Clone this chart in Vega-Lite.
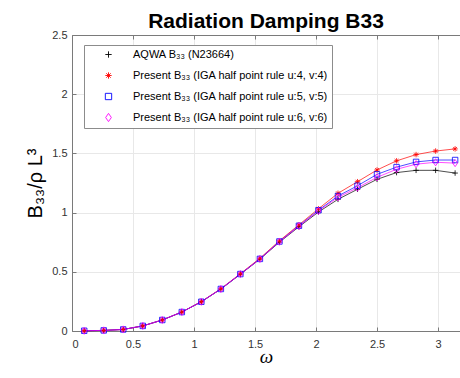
{
  "$schema": "https://vega.github.io/schema/vega-lite/v6.json",
  "autosize": {"type": "none"},
  "padding": {"left": 72, "top": 35, "right": 0, "bottom": 47},
  "width": 388,
  "height": 296,
  "title": {"text": "Radiation Damping B33", "font": "Liberation Sans", "fontSize": 21, "fontWeight": "bold", "color": "#000000", "anchor": "middle", "offset": 0, "dy": 3},
  "config": {
    "view": {"stroke": null},
    "axis": {
      "domainColor": "#7a7a7a", "domainWidth": 1, "tickColor": "#7a7a7a", "tickSize": -4,
      "labelFont": "Liberation Sans", "labelFontSize": 11, "labelColor": "#333333",
      "gridColor": "#e8e8e8", "gridWidth": 1,
      "titleFont": "Liberation Sans", "titleColor": "#000000", "titleFontWeight": "normal"
    }
  },
  "data": {"values": [
    {"w": 0.1, "s": "AQWA", "b": 0.002}, {"w": 0.1, "s": "u4", "b": 0.002}, {"w": 0.1, "s": "u5", "b": 0.002}, {"w": 0.1, "s": "u6", "b": 0.002},
    {"w": 0.26, "s": "AQWA", "b": 0.005}, {"w": 0.26, "s": "u4", "b": 0.005}, {"w": 0.26, "s": "u5", "b": 0.005}, {"w": 0.26, "s": "u6", "b": 0.005},
    {"w": 0.42, "s": "AQWA", "b": 0.013}, {"w": 0.42, "s": "u4", "b": 0.013}, {"w": 0.42, "s": "u5", "b": 0.013}, {"w": 0.42, "s": "u6", "b": 0.013},
    {"w": 0.58, "s": "AQWA", "b": 0.043}, {"w": 0.58, "s": "u4", "b": 0.043}, {"w": 0.58, "s": "u5", "b": 0.043}, {"w": 0.58, "s": "u6", "b": 0.043},
    {"w": 0.74, "s": "AQWA", "b": 0.093}, {"w": 0.74, "s": "u4", "b": 0.093}, {"w": 0.74, "s": "u5", "b": 0.093}, {"w": 0.74, "s": "u6", "b": 0.093},
    {"w": 0.9, "s": "AQWA", "b": 0.16}, {"w": 0.9, "s": "u4", "b": 0.16}, {"w": 0.9, "s": "u5", "b": 0.16}, {"w": 0.9, "s": "u6", "b": 0.16},
    {"w": 1.06, "s": "AQWA", "b": 0.247}, {"w": 1.06, "s": "u4", "b": 0.248}, {"w": 1.06, "s": "u5", "b": 0.247}, {"w": 1.06, "s": "u6", "b": 0.247},
    {"w": 1.22, "s": "AQWA", "b": 0.354}, {"w": 1.22, "s": "u4", "b": 0.357}, {"w": 1.22, "s": "u5", "b": 0.355}, {"w": 1.22, "s": "u6", "b": 0.355},
    {"w": 1.38, "s": "AQWA", "b": 0.479}, {"w": 1.38, "s": "u4", "b": 0.484}, {"w": 1.38, "s": "u5", "b": 0.481}, {"w": 1.38, "s": "u6", "b": 0.481},
    {"w": 1.54, "s": "AQWA", "b": 0.607}, {"w": 1.54, "s": "u4", "b": 0.614}, {"w": 1.54, "s": "u5", "b": 0.609}, {"w": 1.54, "s": "u6", "b": 0.608},
    {"w": 1.7, "s": "AQWA", "b": 0.75}, {"w": 1.7, "s": "u4", "b": 0.762}, {"w": 1.7, "s": "u5", "b": 0.756}, {"w": 1.7, "s": "u6", "b": 0.754},
    {"w": 1.86, "s": "AQWA", "b": 0.88}, {"w": 1.86, "s": "u4", "b": 0.897}, {"w": 1.86, "s": "u5", "b": 0.889}, {"w": 1.86, "s": "u6", "b": 0.886},
    {"w": 2.02, "s": "AQWA", "b": 1.005}, {"w": 2.02, "s": "u4", "b": 1.032}, {"w": 2.02, "s": "u5", "b": 1.02}, {"w": 2.02, "s": "u6", "b": 1.014},
    {"w": 2.18, "s": "AQWA", "b": 1.112}, {"w": 2.18, "s": "u4", "b": 1.163}, {"w": 2.18, "s": "u5", "b": 1.14}, {"w": 2.18, "s": "u6", "b": 1.129},
    {"w": 2.34, "s": "AQWA", "b": 1.197}, {"w": 2.34, "s": "u4", "b": 1.261}, {"w": 2.34, "s": "u5", "b": 1.227}, {"w": 2.34, "s": "u6", "b": 1.21},
    {"w": 2.5, "s": "AQWA", "b": 1.281}, {"w": 2.5, "s": "u4", "b": 1.36}, {"w": 2.5, "s": "u5", "b": 1.323}, {"w": 2.5, "s": "u6", "b": 1.298},
    {"w": 2.66, "s": "AQWA", "b": 1.338}, {"w": 2.66, "s": "u4", "b": 1.437}, {"w": 2.66, "s": "u5", "b": 1.384}, {"w": 2.66, "s": "u6", "b": 1.366},
    {"w": 2.82, "s": "AQWA", "b": 1.357}, {"w": 2.82, "s": "u4", "b": 1.49}, {"w": 2.82, "s": "u5", "b": 1.428}, {"w": 2.82, "s": "u6", "b": 1.409},
    {"w": 2.98, "s": "AQWA", "b": 1.357}, {"w": 2.98, "s": "u4", "b": 1.52}, {"w": 2.98, "s": "u5", "b": 1.444}, {"w": 2.98, "s": "u6", "b": 1.425},
    {"w": 3.14, "s": "AQWA", "b": 1.334}, {"w": 3.14, "s": "u4", "b": 1.538}, {"w": 3.14, "s": "u5", "b": 1.444}, {"w": 3.14, "s": "u6", "b": 1.418}
  ]},
  "resolve": {"axis": {"x": "independent"}},
  "layer": [
    {
      "mark": {"type": "line", "strokeWidth": 0.7},
      "encoding": {
        "x": {"field": "w", "type": "quantitative", "scale": {"domain": [0, 3.18], "nice": false, "zero": false},
              "axis": {"orient": "bottom", "values": [0, 0.5, 1, 1.5, 2, 2.5, 3], "format": "~g", "labelPadding": 11,
                       "title": "ω", "titleFont": "Liberation Serif", "titleFontStyle": "italic", "titleFontSize": 19, "titlePadding": -2}},
        "y": {"field": "b", "type": "quantitative", "scale": {"domain": [0, 2.5], "nice": false},
              "axis": {"orient": "left", "values": [0, 0.5, 1, 1.5, 2, 2.5], "format": "~g", "labelPadding": 9,
                       "title": "B₃₃/ρ L³", "titleFontSize": 20, "titlePadding": 6}},
        "color": {"field": "s", "type": "nominal", "scale": {"domain": ["AQWA", "u4", "u5", "u6"], "range": ["#000000", "#ff0000", "#0000ff", "#ff00ff"]}}
      }
    },
    {
      "mark": {"type": "point", "filled": false, "size": 30, "strokeWidth": 0.8, "opacity": 1},
      "encoding": {
        "x": {"field": "w", "type": "quantitative",
              "axis": {"orient": "top", "values": [0, 0.5, 1, 1.5, 2, 2.5, 3], "labels": false, "grid": false, "title": null}},
        "y": {"field": "b", "type": "quantitative"},
        "color": {"field": "s", "type": "nominal",
                  "legend": {"title": null, "orient": "none", "legendX": 12, "legendY": 10, "fillColor": "#ffffff", "strokeColor": "#8c8c8c",
                             "padding": 4, "symbolSize": 40, "symbolOffset": 15, "labelOffset": 19, "rowPadding": 9, "labelLimit": 400,
                             "labelFont": "Liberation Sans", "labelFontSize": 11, "labelColor": "#000000", "symbolStrokeWidth": 0.9,
                             "labelExpr": "datum.value == 'AQWA' ? 'AQWA B₃₃ (N23664)' : datum.value == 'u4' ? 'Present B₃₃ (IGA half point rule u:4, v:4)' : datum.value == 'u5' ? 'Present B₃₃ (IGA half point rule u:5, v:5)' : 'Present B₃₃ (IGA half point rule u:6, v:6)'"}},
        "shape": {"field": "s", "type": "nominal", "scale": {"domain": ["AQWA", "u4", "u5", "u6"],
                  "range": ["M-1,0H1M0,-1V1", "M-1,0H1M0,-1V1M-0.7,-0.7L0.7,0.7M-0.7,0.7L0.7,-0.7", "M-1,-1H1V1H-1Z", "M0,-1.3L0.9,0L0,1.3L-0.9,0Z"]}}
      }
    }
  ]
}
